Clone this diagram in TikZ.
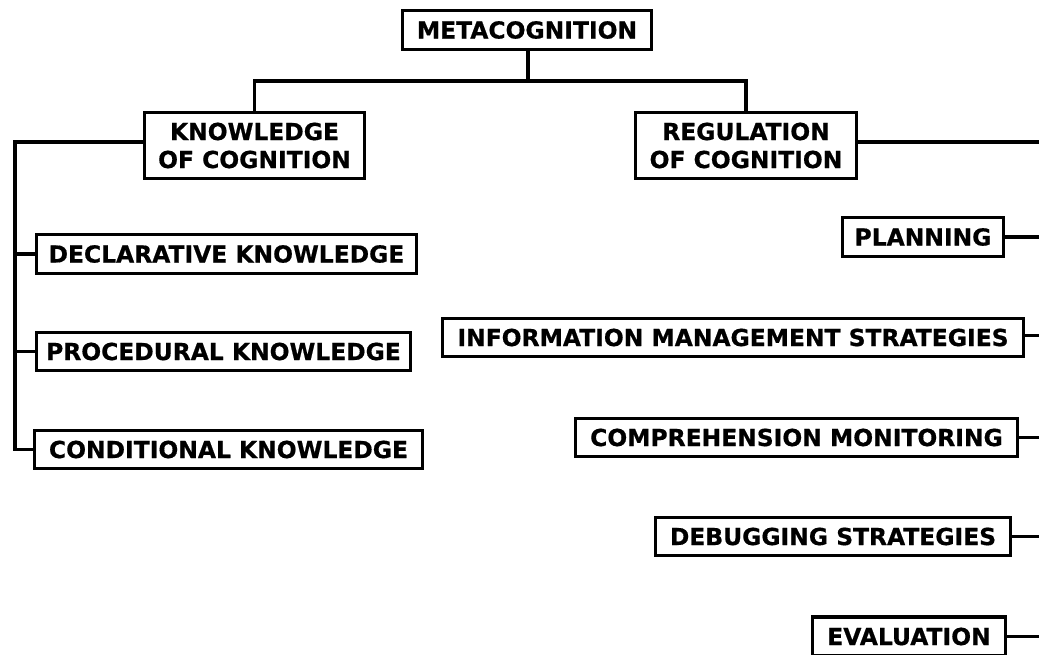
\documentclass[tikz,border=0pt]{standalone}
\usepackage{fontspec}
\setmainfont{DejaVu Sans}[BoldFeatures={FakeBold=0.6}]
\usetikzlibrary{calc}
\begin{document}
\begin{tikzpicture}[x=1pt,y=-1pt,
  box/.style={draw=black,line width=3.2pt,fill=white,inner sep=0pt,align=center,
    font=\fontsize{23.4}{28}\selectfont\bfseries,text=black},
  link/.style={draw=black,line width=3.2pt}]
\useasboundingbox (0,0) rectangle (1039,654);

% root and the two branches
\node[box,minimum width=249pt,minimum height=39pt] (meta) at (527,30) {METACOGNITION};
\node[box,minimum width=220pt,minimum height=66pt] (know) at (254.5,145.5) {KNOWLEDGE\\OF COGNITION};
\node[box,minimum width=221pt,minimum height=66pt] (reg) at (746,145.5) {REGULATION\\OF COGNITION};

% kinds of knowledge
\node[box,minimum width=380pt,minimum height=39pt] (decl) at (226.5,254) {DECLARATIVE KNOWLEDGE};
\node[box,minimum width=374pt,minimum height=38pt] (proc) at (223.5,351.5) {PROCEDURAL KNOWLEDGE};
\node[box,minimum width=388pt,minimum height=38pt] (cond) at (228.5,449.5) {CONDITIONAL KNOWLEDGE};

% regulation skills
\node[box,minimum width=161pt,minimum height=39pt] (plan) at (923,237) {PLANNING};
\node[box,minimum width=581pt,minimum height=38pt] (info) at (733,337.5) {INFORMATION MANAGEMENT STRATEGIES};
\node[box,minimum width=442pt,minimum height=38pt] (comp) at (796.5,437.5) {COMPREHENSION MONITORING};
\node[box,minimum width=355pt,minimum height=38pt] (debug) at (833,536.5) {DEBUGGING STRATEGIES};
\node[box,minimum width=193pt,minimum height=39pt] (eval) at (909,636.5) {EVALUATION};

% helper points
\coordinate (split) at (528,81);
\coordinate (lbar) at (15,142);
\coordinate (redge) at (1039,0);

% tree from the root
\draw[link] (meta.south -| split) -- (split);
\draw[link] (know.north) |- (split) -| (reg.north);

% left column bracket
\draw[link,line join=miter] ([yshift=3.5pt]know.west) -- (lbar) |- (cond.west);
\draw[link] (decl.west) -- (decl.west -| lbar);
\draw[link] (proc.west) -- (proc.west -| lbar);

% right column leads
\draw[link] ([yshift=3.5pt]reg.east) -- ([yshift=3.5pt]reg.east -| redge);
\draw[link] (plan.east) -- (plan.east -| redge);
\draw[link] ([yshift=2pt]info.east) -- ([yshift=2pt]info.east -| redge);
\draw[link] (comp.east) -- (comp.east -| redge);
\draw[link] (debug.east) -- (debug.east -| redge);
\draw[link] (eval.east) -- (eval.east -| redge);
\end{tikzpicture}
\end{document}
